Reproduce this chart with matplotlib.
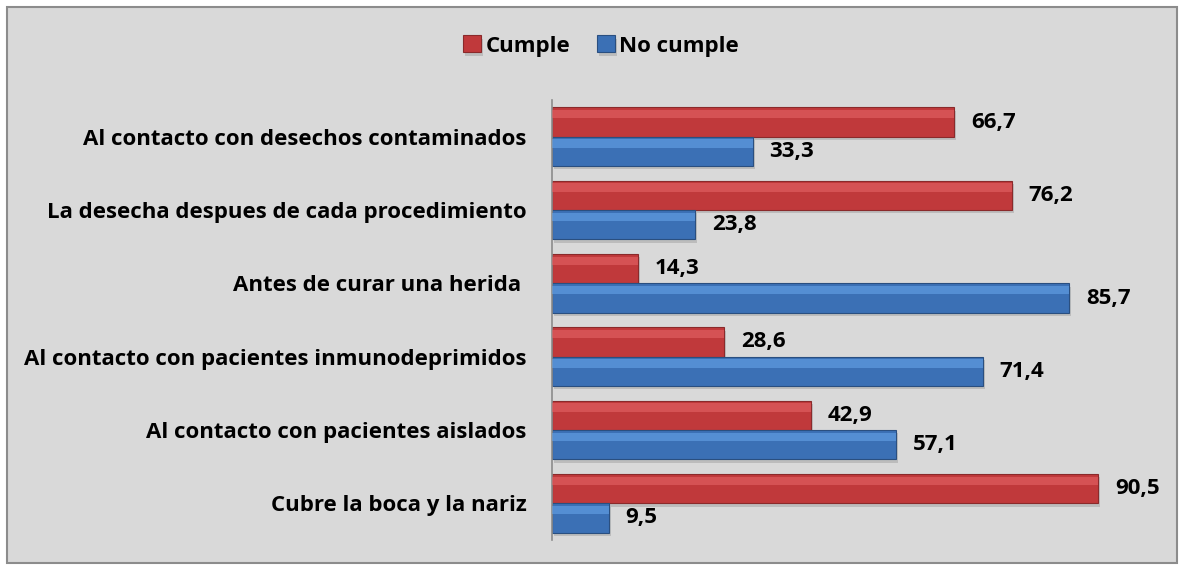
import matplotlib
matplotlib.use("Agg")
import matplotlib.pyplot as plt
import matplotlib.patheffects as pe
import numpy as np
from matplotlib.patches import Rectangle

categories = [
    "Al contacto con desechos contaminados",
    "La desecha despues de cada procedimiento",
    "Antes de curar una herida ",
    "Al contacto con pacientes inmunodeprimidos",
    "Al contacto con pacientes aislados",
    "Cubre la boca y la nariz",
]
cumple = [66.7, 76.2, 14.3, 28.6, 42.9, 90.5]
no_cumple = [33.3, 23.8, 85.7, 71.4, 57.1, 9.5]
series_names = ["Cumple", "No cumple"]

plt.rcParams['font.family'] = ['Open Sans', 'DejaVu Sans']

W, H = 1183, 565
fig = plt.figure(figsize=(W / 100, H / 100), dpi=100)
fig.patch.set_facecolor("white")
fig.patches.append(Rectangle((7 / W, 2 / H), 1170 / W, 556 / H, transform=fig.transFigure,
                             facecolor="#d9d9d9", edgecolor="#8c8c8c", linewidth=1.5, zorder=-5))

ax = fig.add_axes([551.5 / W, (H - 540) / H, (1155.5 - 551.5) / W, (540 - 100) / H])
ax.set_facecolor("none")

n = len(categories)
y = np.arange(n)
bh = 0.40

red, red_hi, red_edge = "#c0393b", "#e8676a", "#8a2a2b"
blue, blue_hi, blue_edge = "#3b70b5", "#6aa8ec", "#2a4f80"
shadow = [pe.SimplePatchShadow(offset=(1.5, -2.5), shadow_rgbFace="#9a9a9a", alpha=0.45), pe.Normal()]

def draw(vals, offs, c, hi, ec, label):
    bars = ax.barh(y + offs, vals, height=bh, color=c, edgecolor=ec, linewidth=0.8, label=label, zorder=2)
    for b in bars:
        b.set_path_effects(shadow)
    ax.barh(y + offs - bh * 0.27, vals, height=bh * 0.28, color=hi, linewidth=0, alpha=0.55, zorder=3)

draw(cumple, -bh / 2, red, red_hi, red_edge, series_names[0])
draw(no_cumple, bh / 2, blue, blue_hi, blue_edge, series_names[1])

fs = 16
for i in range(n):
    ax.annotate(f"{cumple[i]:.1f}".replace(".", ","), (cumple[i], y[i] - bh / 2),
                xytext=(12, 0), textcoords="offset points", va="center", ha="left",
                fontsize=fs, fontweight="bold", color="black")
    ax.annotate(f"{no_cumple[i]:.1f}".replace(".", ","), (no_cumple[i], y[i] + bh / 2),
                xytext=(12, 0), textcoords="offset points", va="center", ha="left",
                fontsize=fs, fontweight="bold", color="black")

ax.set_xlim(0, 100)
ax.set_ylim(n - 0.5, -0.5)
ax.set_yticks(y)
ax.set_yticklabels(categories, fontsize=fs, fontweight="bold")
ax.tick_params(axis="y", length=0, pad=18)
ax.set_xticks([])
for s in ["top", "right", "bottom"]:
    ax.spines[s].set_visible(False)
ax.spines["left"].set_color("#8c8c8c")
ax.spines["left"].set_linewidth(1.2)

leg = fig.legend(loc="center", bbox_to_anchor=(601 / W, (H - 46) / H), ncol=2, frameon=False,
                 prop={"size": fs, "weight": "bold"}, handlelength=0.8, handleheight=0.8,
                 handletextpad=0.2, columnspacing=1.2)

fig.savefig("out.png", dpi=100, facecolor=fig.get_facecolor())
